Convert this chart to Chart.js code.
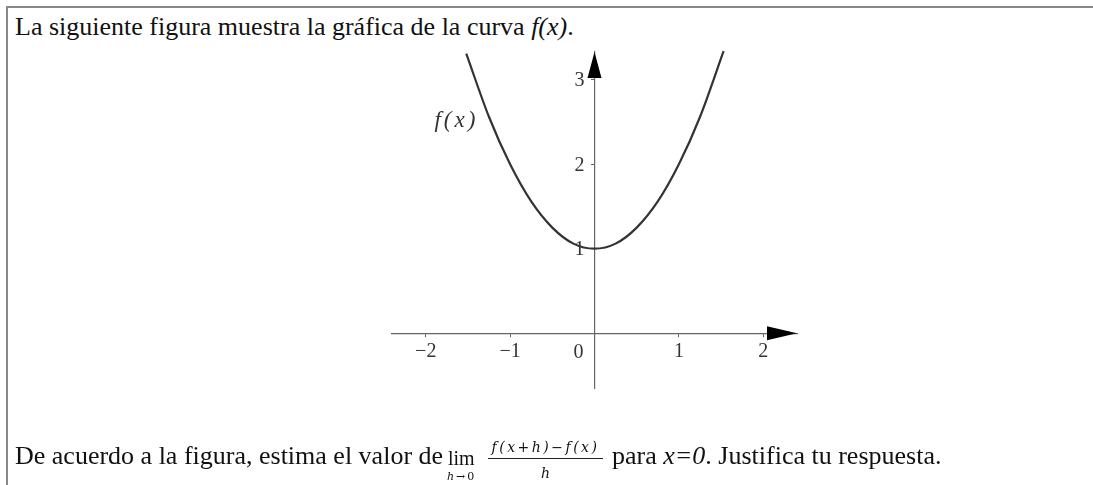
<!DOCTYPE html>
<html lang="es">
<head>
<meta charset="utf-8">
<title>Gráfica de f(x)</title>
<script src="https://cdn.jsdelivr.net/npm/chart.js@4/dist/chart.umd.min.js"></script>
<style>
    html, body {
        margin: 0;
        padding: 0;
        background: #fff;
    }
    .page {
        position: relative;
        width: 1093px;
        height: 485px;
        overflow: hidden;
        font-family: "Liberation Serif", "Times New Roman", serif;
        color: #111;
    }
    .frame {
        position: absolute;
        left: 6px;
        top: 6px;
        right: -10px;
        bottom: -10px;
        border-top: 2px solid #888;
        border-left: 2px solid #888;
    }
    .txt {
        position: absolute;
        margin: 0;
        line-height: 1;
        white-space: nowrap;
    }
    .main { font-size: 26px; }
    #intro { left: 15px; top: 14px; }
    #q1 { left: 15px; top: 443px; }
    #q2 { left: 612px; top: 443px; }
    #lim { left: 448px; top: 448px; font-size: 20px; }
    .math {
        font-family: "DejaVu Serif", serif;
        font-style: italic;
    }
    #limSub {
        left: 447px; top: 471px;
        font-family: "DejaVu Serif", serif;
        font-size: 11px; letter-spacing: 2px;
    }
    #num {
        left: 488px; width: 115px; top: 440px;
        font-size: 14px; letter-spacing: 2.5px; text-align: center;
    }
    #bar {
        position: absolute;
        left: 488px; width: 115px; top: 458px; height: 1px;
        background: #222;
    }
    #den {
        left: 488px; width: 115px; top: 466px;
        font-size: 14px; text-align: center;
    }
    #chart {
        position: absolute;
        left: 0;
        top: 0;
    }
</style>
</head>
<body>
<div class="page">
    <div class="frame"></div>
    <p class="txt main" id="intro">La siguiente figura muestra la gráfica de la curva <i>f(x)</i>.</p>
    <canvas id="chart" width="1093" height="485"></canvas>
    <span class="txt main" id="q1">De acuerdo a la figura, estima el valor de</span>
    <span class="txt" id="lim">lim</span>
    <span class="txt" id="limSub"><i>h</i>→0</span>
    <span class="txt math" id="num">f(x+h)−f(x)</span>
    <span id="bar"></span>
    <span class="txt math" id="den">h</span>
    <span class="txt main" id="q2">para <i>x=0</i>. Justifica tu respuesta.</span>
</div>

<script>
// puntos leídos sobre la curva f(x)
const xValues = [-1.52, -1.25, -1, -0.75, -0.5, -0.25, 0, 0.25, 0.5, 0.75, 1, 1.25, 1.53];
const fValues = [3.31, 2.56, 2.0, 1.56, 1.25, 1.06, 1.0, 1.06, 1.25, 1.56, 2.0, 2.56, 3.34];

const xTicks = [-2, -1, 1, 2];
const yTicks = [1, 2, 3];
const curveName = 'f(x)';

const AXIS_COLOR = '#666';
const TEXT_COLOR = '#333';
const SERIF = '"Liberation Serif", serif';
const TICK_FONT = { family: SERIF, size: 20 };

function formatTick(v) {
    return v < 0 ? '\u2212' + Math.abs(v) : String(v);
}

// flechas de los ejes, etiquetas del eje y, el 0 del origen y el nombre de la curva
const axisDecorations = {
    id: 'axisDecorations',
    afterDraw(chart) {
        const { ctx, scales: { x, y } } = chart;
        const x0 = x.getPixelForValue(0);
        const y0 = y.getPixelForValue(0);
        const xEnd = x.getPixelForValue(x.max);
        const yEnd = y.getPixelForValue(y.max);

        ctx.save();
        ctx.fillStyle = '#000';

        ctx.beginPath();
        ctx.moveTo(xEnd, y0);
        ctx.lineTo(xEnd - 30, y0 - 7);
        ctx.lineTo(xEnd - 30, y0 + 7);
        ctx.closePath();
        ctx.fill();

        ctx.beginPath();
        ctx.moveTo(x0, yEnd);
        ctx.lineTo(x0 - 7, yEnd + 26);
        ctx.lineTo(x0 + 7, yEnd + 26);
        ctx.closePath();
        ctx.fill();

        ctx.fillStyle = TEXT_COLOR;
        ctx.font = `${TICK_FONT.size}px ${SERIF}`;
        ctx.textAlign = 'right';
        ctx.textBaseline = 'middle';
        y.ticks.forEach(t => {
            ctx.fillText(formatTick(t.value), x0 - 10, y.getPixelForValue(t.value) + 1);
        });

        ctx.textAlign = 'center';
        ctx.fillText('0', x0 - 16, y0 + 20);

        ctx.font = `italic 23px ${SERIF}`;
        ctx.letterSpacing = '3px';
        ctx.fillText(curveName, x.getPixelForValue(-1.66) + 2, y.getPixelForValue(2.51));
        ctx.restore();
    }
};

new Chart(document.getElementById('chart'), {
    type: 'scatter',
    data: {
        datasets: [{
            label: curveName,
            data: xValues.map((v, i) => ({ x: v, y: fValues[i] })),
            showLine: true,
            borderColor: '#333',
            borderWidth: 2.2,
            pointRadius: 0,
            cubicInterpolationMode: 'monotone',
            clip: false,
        }],
    },
    options: {
        responsive: false,
        animation: false,
        layout: {
            padding: { left: 392, right: 296, top: 52, bottom: 97 },
        },
        plugins: {
            legend: { display: false },
            tooltip: { enabled: false },
        },
        scales: {
            x: {
                type: 'linear',
                min: -2.4,
                max: 2.4,
                position: { y: 0 },
                afterBuildTicks: (scale) => {
                    scale.ticks = xTicks.map(value => ({ value }));
                },
                grid: { drawOnChartArea: false, drawTicks: true, tickLength: 3, color: AXIS_COLOR },
                border: { color: AXIS_COLOR, width: 1.2 },
                ticks: {
                    color: TEXT_COLOR,
                    font: TICK_FONT,
                    padding: 4,
                    maxRotation: 0,
                    callback: formatTick,
                },
            },
            y: {
                type: 'linear',
                min: -0.65,
                max: 3.33,
                position: { x: 0 },
                afterBuildTicks: (scale) => {
                    scale.ticks = yTicks.map(value => ({ value }));
                },
                grid: { drawOnChartArea: false, drawTicks: true, tickLength: 3, color: AXIS_COLOR },
                border: { color: AXIS_COLOR, width: 1.2 },
                ticks: { display: false },
            },
        },
    },
    plugins: [axisDecorations],
});
</script>
</body>
</html>
